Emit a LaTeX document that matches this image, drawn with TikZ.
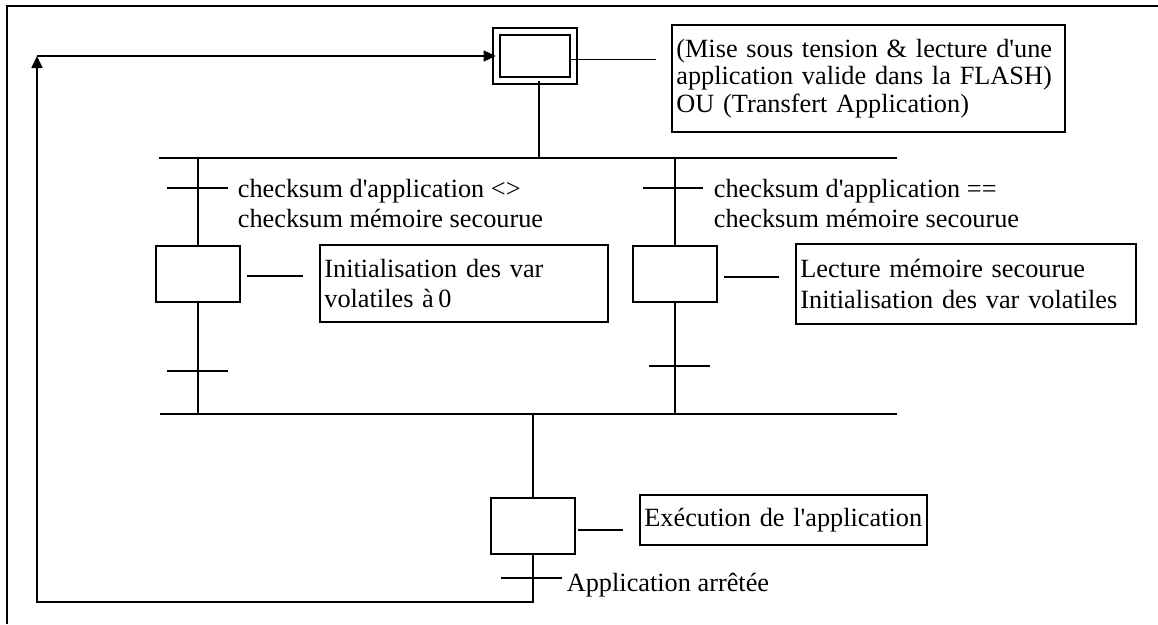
\documentclass[tikz,border=0pt]{standalone}
\usepackage{fontspec}
\setmainfont{Liberation Serif}
\usetikzlibrary{arrows.meta}
\newcommand{\aq}{\textquotesingle}
\begin{document}
\begin{tikzpicture}[x=1pt,y=-1pt,line width=1.7pt,
  every node/.style={font=\fontsize{26.3}{30.5}\selectfont},
  stepbox/.style={draw,minimum width=84pt,minimum height=56pt,inner sep=0pt},
  initbox/.style={draw,double,double distance=5.5pt,minimum width=77pt,minimum height=49pt,inner sep=0pt},
  actbox/.style={draw,anchor=north west,align=left,inner xsep=4.5pt,inner ysep=0pt},
  lbl/.style={anchor=west,align=left,inner sep=0pt},
  arr/.style={-{Triangle[length=12pt,width=11pt]}}]
\useasboundingbox (0,0) rectangle (1158,624);
% open frame (top and left edges only)
\coordinate (FTL) at (7,6);
\coordinate (FTR) at (1158,6);
\coordinate (FBL) at (7,624);
\draw (FBL) -- (FTL) -- (FTR);

% steps
\node[initbox] (init) at (535,56) {};
\node[stepbox] (s1) at (198,274) {};
\node[stepbox] (s2) at (675,274) {};
\node[stepbox] (s3) at (533,526) {};

% action boxes
\node[actbox,text width=384pt,minimum height=107pt,font=\fontsize{26.3}{27.5}\selectfont] (a0) at (671,24)
  {\mbox{(Mise sous tension \& lecture d\aq une}\\\mbox{application valide dans la FLASH)}\\\mbox{OU (Transfert Application)}};
\node[actbox,text width=279pt,minimum height=77pt] (a1) at (319,244)
  {\mbox{Initialisation des var}\\\mbox{volatiles à\,0}};
\node[actbox,text width=331pt,minimum height=80pt] (a2) at (795,243)
  {\mbox{Lecture mémoire secourue}\\\mbox{Initialisation des var volatiles}};
\node[actbox,text width=278pt,minimum height=50pt] (a3) at (639,494)
  {\mbox{Exécution de l\aq application}};

% action links
\draw[shorten <=-4pt,shorten >=15pt] ([yshift=-3.5pt]init.east) -- ([yshift=-3.5pt]a0.west |- init.east);
\draw[shorten <=6pt,shorten >=16pt] ([yshift=-2pt]s1.east) -- ([yshift=-2pt]a1.west |- s1.east);
\draw[shorten <=6pt,shorten >=16pt] ([yshift=-3pt]s2.east) -- ([yshift=-3pt]a2.west |- s2.east);
\draw[shorten <=2pt,shorten >=16pt] ([yshift=-4pt]s3.east) -- ([yshift=-4pt]a3.west |- s3.east);

% buses
\coordinate (B1L) at (159,158);
\coordinate (B1R) at (897,158);
\coordinate (B2L) at (160,414);
\coordinate (B2R) at (897,414);
\draw (B1L) -- (B1R);
\draw (B2L) -- (B2R);

% init down to top bus
\draw ([xshift=4pt]init.south) -- ([xshift=4pt]init.south |- B1L);

% left branch
\draw (s1.north |- B1L) -- (s1.north);
\draw (s1.south) -- (s1.south |- B2L);
\coordinate (t1L) at (198,188);
\draw ([xshift=-31pt]t1L) -- ([xshift=30pt]t1L);
\coordinate (t2L) at (198,371);
\draw ([xshift=-31pt]t2L) -- ([xshift=30pt]t2L);
\node[lbl] (c1) at (237,203.5) {checksum d\aq application <>\\checksum mémoire secourue};

% right branch
\draw (s2.north |- B1L) -- (s2.north);
\draw (s2.south) -- (s2.south |- B2L);
\coordinate (t1R) at (675,188);
\draw ([xshift=-32pt]t1R) -- ([xshift=28pt]t1R);
\coordinate (t2R) at (675,366);
\draw ([xshift=-26pt]t2R) -- ([xshift=35pt]t2R);
\node[lbl] (c2) at (713,203.5) {checksum d\aq application ==\\checksum mémoire secourue};

% exec step
\draw (s3.north |- B2L) -- (s3.north);
\coordinate (Lb) at (37,602);
\coordinate (Lt) at (37,56);
\draw[arr] (s3.south) -- (s3.south |- Lb) -- (Lb) -- (Lt);
\draw[arr] (Lt) -- (init.west);
\coordinate (t3) at (533,578);
\draw ([xshift=-32pt]t3) -- ([xshift=29pt]t3);
\node[lbl] (c3) at (566,585) {Application arrêtée};
\end{tikzpicture}
\end{document}
